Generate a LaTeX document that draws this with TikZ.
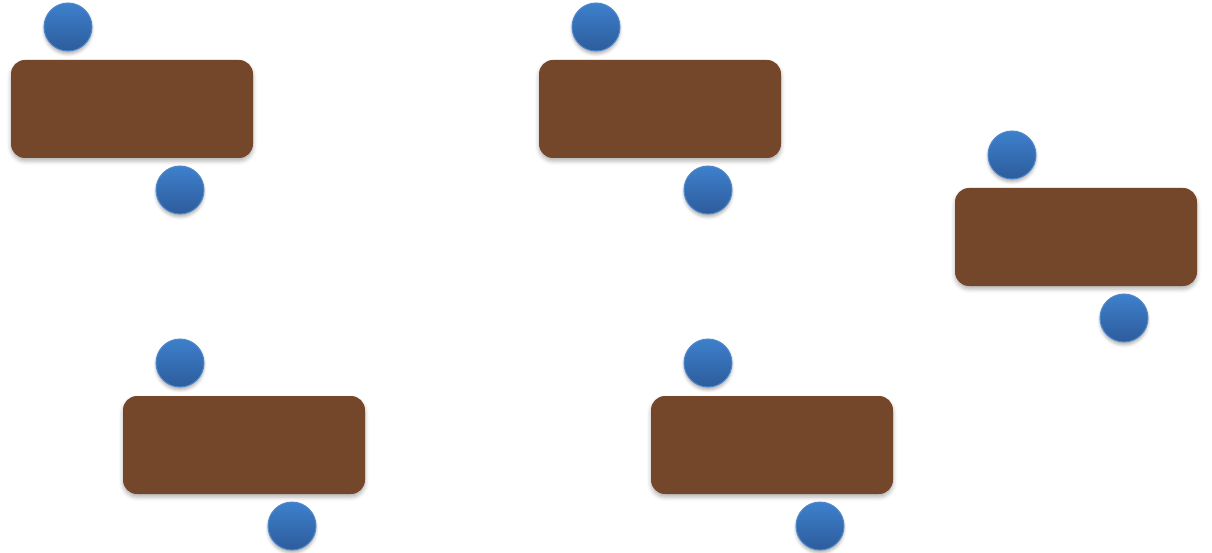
\documentclass[tikz,border=0pt]{standalone}
\usetikzlibrary{shadows.blur}
\definecolor{boxbrown}{HTML}{74472A}
\definecolor{balltop}{HTML}{3E80CC}
\definecolor{ballbot}{HTML}{2D5C9C}
\definecolor{ballrim}{HTML}{4F88C9}
\begin{document}
\begin{tikzpicture}[x=1pt,y=-1pt,
  slab/.style={fill=boxbrown, rounded corners=14pt, minimum width=242pt, minimum height=98pt, inner sep=0pt, draw=none,
    blur shadow={shadow xshift=0pt, shadow yshift=-3pt, shadow blur radius=4pt, shadow opacity=30}},
  ball/.style={circle, minimum size=48pt, inner sep=0pt, top color=balltop, bottom color=ballbot, draw=ballrim, line width=1pt,
    blur shadow={shadow xshift=0pt, shadow yshift=-3pt, shadow blur radius=3pt, shadow opacity=30}}]
\useasboundingbox (0,0) rectangle (1212,553);
\foreach \n/\x/\y in {1/132/109, 2/660/109, 3/1076/237, 4/244/445, 5/772/445}{
  \node[slab] (s\n) at (\x,\y) {};
  \node[ball] (t\n) at ({\x-64},{\y-82}) {};
  \node[ball] (b\n) at ({\x+48},{\y+81}) {};
}
\end{tikzpicture}
\end{document}
